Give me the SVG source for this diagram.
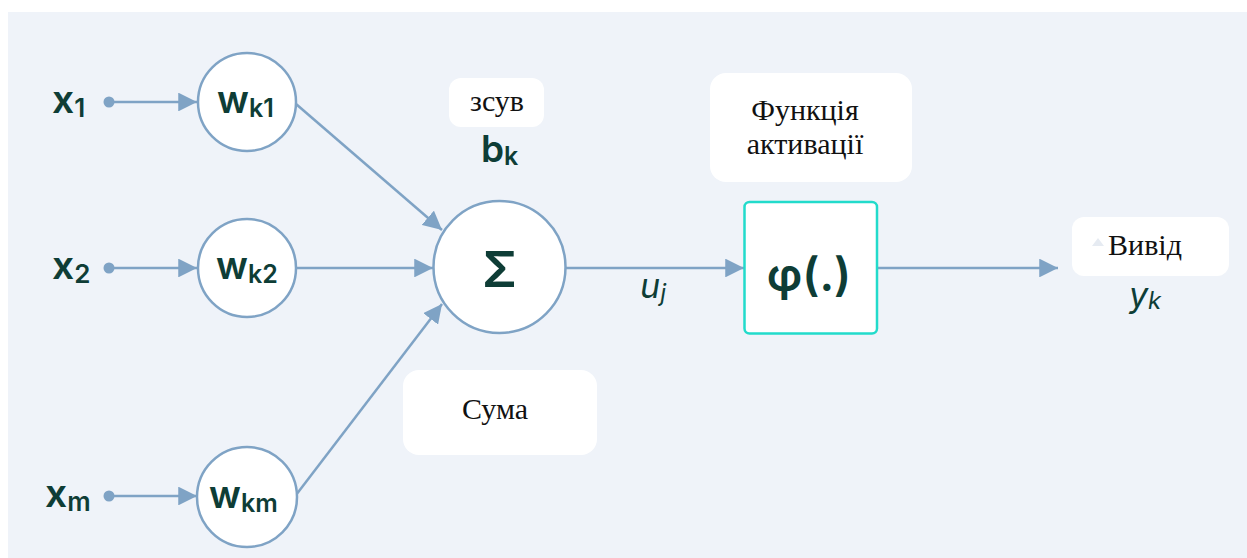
<svg xmlns="http://www.w3.org/2000/svg" width="1247" height="558" viewBox="0 0 1247 558">
  <defs>
    <marker id="arrow" viewBox="0 0 10 10" refX="10" refY="5" markerWidth="7.5" markerHeight="7.5" markerUnits="strokeWidth" orient="auto">
      <path d="M0,0 L10,5 L0,10 Z" fill="#7fa3c5"/>
    </marker>
    <style>
      .wire { stroke: #7fa3c5; stroke-width: 2.5; fill: none; }
      .dot { fill: #7fa3c5; }
      .node { fill: #ffffff; stroke: #7fa3c5; stroke-width: 2.5; }
      .math { font-family: Inter, "Noto Sans", sans-serif; font-weight: 600; fill: #0e3d36; }
      .ital { font-family: Inter, "Noto Sans", sans-serif; font-style: italic; fill: #0e3d36; }
      .note { fill: #ffffff; }
      .label { font-family: "Liberation Serif", "DejaVu Serif", serif; font-size: 30px; fill: #111111; text-anchor: middle; }
    </style>
  </defs>

  <!-- canvas -->
  <rect x="0" y="0" width="1247" height="558" fill="#ffffff"/>
  <rect x="8" y="12" width="1239" height="546" fill="#eff3f9"/>

  <!-- connectors -->
  <g id="connectors">
    <circle class="dot" cx="109" cy="102" r="5.5"/>
    <line class="wire" x1="109" y1="102" x2="197" y2="102" marker-end="url(#arrow)"/>
    <circle class="dot" cx="109" cy="268" r="5.5"/>
    <line class="wire" x1="109" y1="268" x2="197" y2="268" marker-end="url(#arrow)"/>
    <circle class="dot" cx="109" cy="496" r="5.5"/>
    <line class="wire" x1="109" y1="496" x2="197" y2="496" marker-end="url(#arrow)"/>
    <line class="wire" x1="296" y1="104" x2="442" y2="230" marker-end="url(#arrow)"/>
    <line class="wire" x1="297" y1="268" x2="433" y2="268" marker-end="url(#arrow)"/>
    <line class="wire" x1="296" y1="495" x2="442" y2="304" marker-end="url(#arrow)"/>
    <line class="wire" x1="566" y1="268" x2="744" y2="268" marker-end="url(#arrow)"/>
    <line class="wire" x1="877" y1="268" x2="1058" y2="268" marker-end="url(#arrow)"/>
  </g>

  <!-- inputs -->
  <g id="input-x1">
    <text class="math" x="52" y="113" font-size="39">x<tspan font-size="26" dy="4">1</tspan></text>
  </g>
  <g id="input-x2">
    <text class="math" x="52" y="279" font-size="39">x<tspan font-size="26" dy="4">2</tspan></text>
  </g>
  <g id="input-xm">
    <text class="math" x="45" y="507" font-size="39">x<tspan font-size="26" dy="4">m</tspan></text>
  </g>

  <!-- weights -->
  <g id="weight-wk1">
    <circle class="node" cx="247" cy="102" r="49"/>
    <text class="math" x="217" y="113" font-size="38">w<tspan font-size="25" dy="4">k1</tspan></text>
  </g>
  <g id="weight-wk2">
    <circle class="node" cx="247" cy="268" r="49"/>
    <text class="math" x="216" y="279" font-size="38">w<tspan font-size="25" dy="4">k2</tspan></text>
  </g>
  <g id="weight-wkm">
    <circle class="node" cx="247" cy="497" r="50"/>
    <text class="math" x="209" y="508" font-size="38">w<tspan font-size="25" dy="4">km</tspan></text>
  </g>

  <!-- summation -->
  <g id="sum">
    <circle class="node" cx="499.5" cy="267" r="66"/>
    <text class="math" x="499.5" y="287" font-size="50" font-weight="500" text-anchor="middle">Σ</text>
  </g>

  <!-- bias -->
  <g id="bias">
    <rect class="note" x="449" y="78" width="95" height="49" rx="12"/>
    <text class="label" x="497" y="111">зсув</text>
    <text class="math" x="481" y="162" font-size="37" font-weight="500">b<tspan font-size="25" dy="3">k</tspan></text>
  </g>

  <!-- sum caption -->
  <g id="sum-caption">
    <rect class="note" x="403" y="370" width="194" height="85" rx="16"/>
    <text class="label" x="495" y="419">Сума</text>
  </g>

  <!-- activation caption -->
  <g id="activation-caption">
    <rect class="note" x="710" y="73" width="202" height="109" rx="16"/>
    <text class="label" x="805" y="120">Функція</text>
    <text class="label" x="805" y="154">активації</text>
  </g>

  <!-- activation function -->
  <g id="activation">
    <rect x="744.5" y="202" width="132.5" height="131.5" rx="5" fill="#ffffff" stroke="#22dbcb" stroke-width="2.5"/>
    <text class="math" x="809" y="291" font-size="46" font-weight="400" text-anchor="middle">φ(.)</text>
  </g>

  <!-- pre-activation label -->
  <g id="net-input">
    <text class="ital" x="640" y="298" font-size="34">u<tspan font-size="24" dy="3">j</tspan></text>
  </g>

  <!-- output -->
  <g id="output">
    <rect class="note" x="1072" y="217" width="157" height="59" rx="12"/>
    <path d="M1092,246 L1098,238 L1104,246 Z" fill="#e6ebf2"/>
    <text class="label" x="1145" y="255">Вивід</text>
    <text class="ital" x="1129" y="307" font-size="34">y<tspan font-size="24" dy="2">k</tspan></text>
  </g>
</svg>
